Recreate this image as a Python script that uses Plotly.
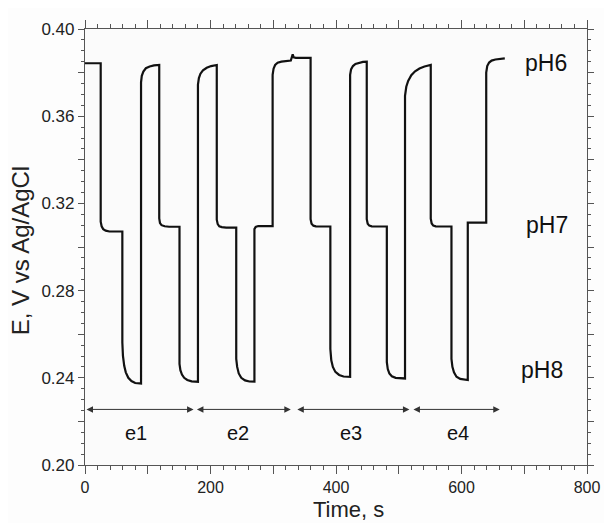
import plotly.graph_objects as go

# ---- data ----
time_s = [
    0, 25, 25, 26.5, 29, 33, 39, 59.5,
    59.5, 60.5, 62.5, 65, 69, 74, 80, 89.3,
    89.3, 90.5, 93, 97, 103, 110, 118.3,
    118.3, 119.5, 122, 127, 134, 150.6,
    150.6, 152, 154.5, 158, 163, 170, 180,
    180, 181.5, 184, 188, 194, 201, 210,
    210, 211.5, 214, 218, 225, 241,
    241, 242.5, 245, 249, 255, 262, 270,
    270, 272, 276, 299,
    299, 300.5, 303, 307, 313, 320, 328, 330, 331, 332.5, 336, 359.5,
    359.5, 361, 364, 368, 375, 391,
    391, 392.5, 395, 399, 405, 412, 422.5,
    422.5, 424, 427, 431, 437, 443, 449,
    449, 450.5, 453, 457, 464, 481,
    481, 482.5, 485, 489, 495, 502, 510,
    510, 512, 515, 520, 526, 533, 541, 551,
    551, 552.5, 555, 559, 566, 584,
    584, 585.5, 588, 592, 598, 604, 610,
    610, 639.4,
    639.4, 641, 644, 648, 654, 661, 669,
]
potential_V = [
    0.3843, 0.3843, 0.3116, 0.3095, 0.3082, 0.3075, 0.3071, 0.3071,
    0.2562, 0.2500, 0.2455, 0.2425, 0.2400, 0.2385, 0.2376, 0.2374,
    0.3755, 0.3785, 0.3805, 0.3820, 0.3828, 0.3833, 0.3835,
    0.3131, 0.3110, 0.3100, 0.3095, 0.3093, 0.3093,
    0.2464, 0.2435, 0.2415, 0.2400, 0.2390, 0.2384, 0.2382,
    0.3745, 0.3775, 0.3795, 0.3810, 0.3822, 0.3830, 0.3835,
    0.3125, 0.3105, 0.3095, 0.3091, 0.3089, 0.3089,
    0.2487, 0.2450, 0.2420, 0.2400, 0.2388, 0.2383, 0.2382,
    0.3082, 0.3092, 0.3096, 0.3096,
    0.3790, 0.3818, 0.3835, 0.3845, 0.3850, 0.3853, 0.3855, 0.3875, 0.3884, 0.3870, 0.3868, 0.3868,
    0.3128, 0.3107, 0.3098, 0.3095, 0.3094, 0.3094,
    0.2532, 0.2480, 0.2450, 0.2427, 0.2413, 0.2406, 0.2404,
    0.3790, 0.3815, 0.3830, 0.3840, 0.3846, 0.3849, 0.3850,
    0.3128, 0.3107, 0.3098, 0.3095, 0.3094, 0.3094,
    0.2472, 0.2440, 0.2420, 0.2407, 0.2400, 0.2398, 0.2397,
    0.3693, 0.3735, 0.3762, 0.3788, 0.3806, 0.3819, 0.3828, 0.3835,
    0.3130, 0.3108, 0.3098, 0.3095, 0.3094, 0.3094,
    0.2487, 0.2450, 0.2425, 0.2405, 0.2395, 0.2391, 0.2390,
    0.3112, 0.3112,
    0.3800, 0.3830, 0.3846, 0.3855, 0.3860, 0.3863, 0.3865,
]

# experiment spans (s) and labels
exp_labels = ["e1", "e2", "e3", "e4"]
exp_start = [0, 176, 336, 521]
exp_end = [173, 328, 517, 661]
exp_label_t = [82, 244, 424, 594]
exp_arrow_E = 0.2255
exp_label_E = 0.2148

# pH level labels
ph_labels = ["pH6", "pH7", "pH8"]
ph_label_t = [735, 737, 729]
ph_label_E = [0.3843, 0.3101, 0.2436]

x_tickvals = [0, 100, 200, 300, 400, 500, 600, 700, 800]
x_ticktext = ["0", "", "200", "", "400", "", "600", "", "800"]
y_tickvals = [0.20, 0.22, 0.24, 0.26, 0.28, 0.30, 0.32, 0.34, 0.36, 0.38, 0.40]
y_ticktext = ["0.20", "", "0.24", "", "0.28", "", "0.32", "", "0.36", "", "0.40"]

FONT = "Liberation Sans, Arial, sans-serif"
AX = "#555555"

fig = go.Figure()
fig.add_trace(go.Scatter(
    x=time_s, y=potential_V, mode="lines",
    line=dict(color="#111111", width=2.2),
    showlegend=False, hoverinfo="skip",
))

annotations = []
for lab, s, e, lt in zip(exp_labels, exp_start, exp_end, exp_label_t):
    annotations.append(dict(
        x=e, y=exp_arrow_E, ax=s, ay=exp_arrow_E,
        xref="x", yref="y", axref="x", ayref="y",
        text="", showarrow=True, arrowhead=2, arrowside="end+start",
        arrowsize=1.3, arrowwidth=1, arrowcolor="#333333",
        standoff=0, startstandoff=0,
    ))
    annotations.append(dict(
        x=lt, y=exp_label_E, xref="x", yref="y", text=lab,
        showarrow=False, font=dict(family=FONT, size=20, color="#111111"),
        xanchor="center", yanchor="middle",
    ))
for lab, t, E in zip(ph_labels, ph_label_t, ph_label_E):
    annotations.append(dict(
        x=t, y=E, xref="x", yref="y", text=lab,
        showarrow=False, font=dict(family=FONT, size=23, color="#111111"),
        xanchor="center", yanchor="middle",
    ))
# axis titles
annotations.append(dict(
    x=-0.128, y=0.492, xref="paper", yref="paper", text="E, V vs Ag/AgCl",
    textangle=-90, showarrow=False,
    font=dict(family=FONT, size=24, color="#222222"),
    xanchor="center", yanchor="middle",
))
annotations.append(dict(
    x=0.5256, y=-0.101, xref="paper", yref="paper", text="Time, s",
    showarrow=False, font=dict(family=FONT, size=22, color="#222222"),
    xanchor="center", yanchor="middle", borderpad=0,
))

# the page body adds an 8 px offset, so the figure is sized to fit the window
fig.update_layout(
    width=604, height=515,
    margin=dict(l=77, r=19, t=12, b=58),
    paper_bgcolor="#fdfdfd", plot_bgcolor="#fbfbfb",
    annotations=annotations,
    font=dict(family=FONT, color="#222222"),
)
fig.update_xaxes(
    range=[0, 800], showgrid=False, zeroline=False,
    showline=True, linecolor=AX, linewidth=1.2, mirror="allticks",
    ticks="outside", ticklen=8, tickwidth=1, tickcolor=AX,
    tickvals=x_tickvals, ticktext=x_ticktext,
    tickfont=dict(family=FONT, size=16, color="#222222"),
    minor=dict(dtick=20, ticklen=4, tickwidth=1, tickcolor=AX, ticks="outside", showgrid=False),
)
fig.update_yaxes(
    range=[0.20, 0.40], showgrid=False, zeroline=False,
    showline=True, linecolor=AX, linewidth=1.2, mirror="allticks",
    ticks="outside", ticklen=6, tickwidth=1, tickcolor=AX,
    tickvals=y_tickvals, ticktext=y_ticktext,
    tickfont=dict(family=FONT, size=17, color="#222222"),
    minor=dict(dtick=0.005, ticklen=3, tickwidth=1, tickcolor=AX, ticks="outside", showgrid=False),
)

fig.write_html("out.html")
